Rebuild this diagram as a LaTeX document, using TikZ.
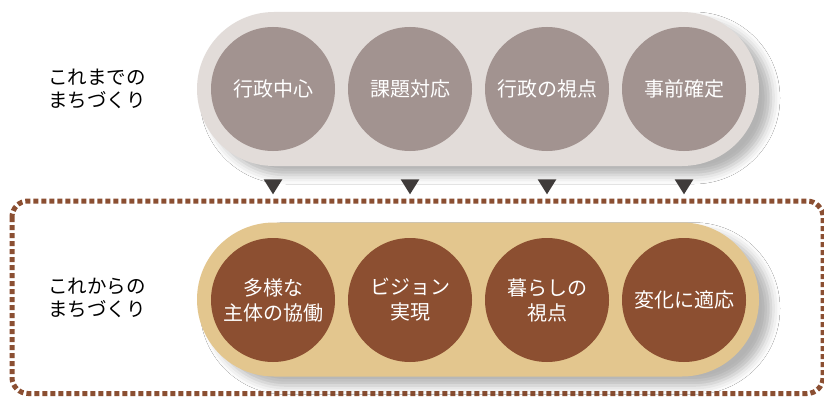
\documentclass[tikz,border=0pt]{standalone}
\usepackage{fontspec}
\setmainfont{Noto Sans CJK JP}
\usetikzlibrary{shapes.misc,shapes.geometric,shadows.blur}
\definecolor{pillgray}{HTML}{E2DCD9}
\definecolor{circgray}{HTML}{A29390}
\definecolor{pillgold}{HTML}{E3C68E}
\definecolor{circbrown}{HTML}{8C4F31}
\definecolor{dotbrown}{HTML}{8B4F32}
\definecolor{tri}{HTML}{3F3B3A}
\tikzset{
  pill/.style={rounded rectangle, minimum width=562pt, minimum height=154pt, inner sep=0pt,
    blur shadow={shadow xshift=12pt, shadow yshift=-9pt, shadow blur radius=9pt, shadow opacity=30}},
  bubble/.style={circle, minimum size=124pt, inner sep=0pt, text=white, align=center,
    font=\fontsize{20}{25}\selectfont},
  oldc/.style={bubble, fill=circgray},
  newc/.style={bubble, fill=circbrown},
  sidelabel/.style={align=left, font=\fontsize{19.5}{23}\selectfont, text=black},
  downtri/.style={isosceles triangle, isosceles triangle apex angle=64, shape border rotate=-90,
    fill=tri, inner sep=0pt, minimum height=15pt, minimum width=18pt},
  dotframe/.style={draw=dotbrown, line width=5pt, dash pattern=on 5pt off 3pt, rounded corners=16pt}
}
\begin{document}
\begin{tikzpicture}[x=1pt,y=-1pt]
\useasboundingbox (0,0) rectangle (824,396);
\fill[white] (0,0) rectangle (824,396);
% dotted frame
\draw[dotframe] (12,201) rectangle (823,393.5);
% pills
\node[pill, fill=pillgray] (toppill) at (478,89) {};
\node[pill, fill=pillgold] (botpill) at (478,299.5) {};
% labels
\node[sidelabel] (oldlabel) at (97,88.5) {これまでの\\まちづくり};
\node[sidelabel] (newlabel) at (97,298) {これからの\\まちづくり};
% old circles
\node[oldc] (o1) at (273,89) {行政中心};
\node[oldc] (o2) at (410,89) {課題対応};
\node[oldc] (o3) at (547,89) {行政の視点};
\node[oldc] (o4) at (684,89) {事前確定};
% new circles
\node[newc] (n1) at (273,300) {多様な\\主体の協働};
\node[newc] (n2) at (410,300) {ビジョン\\実現};
\node[newc] (n3) at (547,300) {暮らしの\\視点};
\node[newc] (n4) at (684,300) {変化に適応};
% triangles
\foreach \i/\x in {1/273,2/410,3/547,4/684}{
  \node[downtri] (t\i) at (\x,184.5) {};
}
\end{tikzpicture}
\end{document}
